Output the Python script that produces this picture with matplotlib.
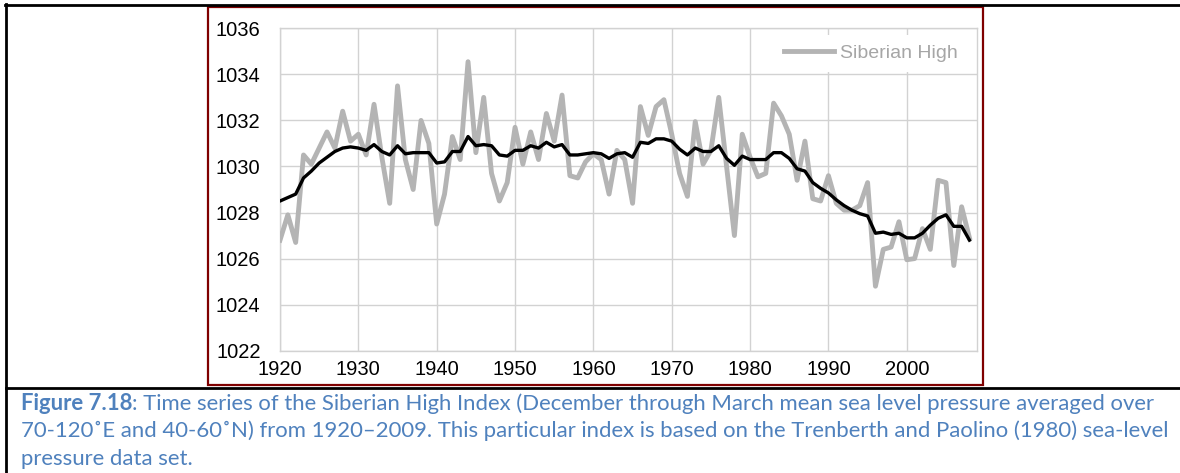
import matplotlib
matplotlib.use('Agg')
import matplotlib.pyplot as plt
from matplotlib.patches import Rectangle
from matplotlib.lines import Line2D

# Siberian High index, Dec-Mar mean SLP (hPa)
years = list(range(1920, 2009))
siberian_high = [
    1026.8, 1027.9, 1026.7, 1030.5, 1030.1, 1030.8, 1031.5, 1030.8, 1032.4, 1031.1,
    1031.4, 1030.5, 1032.7, 1030.4, 1028.4, 1033.5, 1030.3, 1029.0, 1032.0, 1031.0,
    1027.5, 1028.8, 1031.3, 1030.3, 1034.55, 1030.6, 1033.0, 1029.7, 1028.5, 1029.3,
    1031.7, 1030.1, 1031.5, 1030.3, 1032.3, 1031.1, 1033.1, 1029.6, 1029.5, 1030.2,
    1030.55, 1030.3, 1028.8, 1030.7, 1030.3, 1028.4, 1032.6, 1031.35, 1032.6, 1032.9,
    1031.4, 1029.7, 1028.7, 1031.95, 1030.1, 1030.7, 1033.0, 1030.0, 1027.0, 1031.4,
    1030.4, 1029.55, 1029.7, 1032.75, 1032.2, 1031.4, 1029.4, 1031.1, 1028.6, 1028.5,
    1029.6, 1028.4, 1028.1, 1028.1, 1028.3, 1029.3, 1024.8, 1026.4, 1026.5, 1027.6,
    1025.95, 1026.0, 1027.3, 1026.4, 1029.4, 1029.3, 1025.7, 1028.25, 1026.9,
]
# smoothed curve (black)
smoothed = [
    1028.5, 1028.65, 1028.8, 1029.5, 1029.8, 1030.15, 1030.4, 1030.65, 1030.8, 1030.85,
    1030.8, 1030.7, 1030.95, 1030.65, 1030.5, 1030.9, 1030.55, 1030.6, 1030.6, 1030.6,
    1030.15, 1030.2, 1030.65, 1030.65, 1031.3, 1030.9, 1030.95, 1030.9, 1030.5, 1030.45,
    1030.7, 1030.7, 1030.9, 1030.8, 1031.05, 1030.85, 1030.95, 1030.5, 1030.5, 1030.55,
    1030.6, 1030.55, 1030.35, 1030.55, 1030.6, 1030.4, 1031.05, 1031.0, 1031.2, 1031.2,
    1031.1, 1030.75, 1030.5, 1030.8, 1030.65, 1030.65, 1030.9, 1030.35, 1030.05, 1030.45,
    1030.3, 1030.3, 1030.3, 1030.6, 1030.6, 1030.35, 1029.9, 1029.8, 1029.3, 1029.05,
    1028.85, 1028.55, 1028.3, 1028.1, 1027.95, 1027.85, 1027.1, 1027.15, 1027.05, 1027.1,
    1026.9, 1026.9, 1027.1, 1027.45, 1027.75, 1027.9, 1027.4, 1027.4, 1026.8,
]
x_ticks = [1920, 1930, 1940, 1950, 1960, 1970, 1980, 1990, 2000]
y_ticks = [1022, 1024, 1026, 1028, 1030, 1032, 1034, 1036]
legend_label = 'Siberian High'

caption_bold = 'Figure 7.18'
caption_lines = [
    ': Time series of the Siberian High Index (December through March mean sea level pressure averaged over',
    '70-120˚E and 40-60˚N) from 1920–2009. This particular index is based on the Trenberth and Paolino (1980) sea-level',
    'pressure data set.',
]

W, H = 1180, 473
def fx(px):
    return px / W
def fy(py):
    return 1 - py / H

fig = plt.figure(figsize=(W / 100, H / 100), dpi=100, facecolor='white')

# plot area
ax = fig.add_axes([fx(280), fy(350.7), fx(977.3) - fx(280), fy(28.3) - fy(350.7)])
ax.plot(years, siberian_high, color='#b4b4b4', lw=3.5, label=legend_label, zorder=3)
ax.plot(years, smoothed, color='black', lw=2.4, label='_nolegend_', zorder=4)

ax.set_xlim(1920, 2009)
ax.set_ylim(1022, 1036)
ax.set_xticks(x_ticks)
ax.set_yticks(y_ticks)
ax.grid(True, color='#d2d2d2', lw=1.0, zorder=0)
ax.set_axisbelow(True)
for s in ax.spines.values():
    s.set_color('#d2d2d2')
    s.set_linewidth(1.0)
ax.tick_params(axis='both', length=0, labelsize=14.5, colors='black')
ax.tick_params(axis='y', pad=14)
ax.tick_params(axis='x', pad=7)
for lab in ax.get_xticklabels() + ax.get_yticklabels():
    lab.set_family(['Liberation Sans', 'DejaVu Sans'])

leg = ax.legend(loc='center', bbox_to_anchor=(0.847, 0.923), frameon=True,
                facecolor='white', edgecolor='none', fancybox=False, framealpha=1,
                handlelength=2.6, handletextpad=0.3, borderpad=0.5,
                labelcolor='#a6a6a6', prop={'family': 'Liberation Sans', 'size': 14})
leg.set_zorder(5)

# chart border (dark red) and the table rules
fig.add_artist(Rectangle((fx(208.3), fy(385)), fx(983.3) - fx(208.3), fy(6.7) - fy(385),
                         transform=fig.transFigure, fill=False, ec='#7f0000', lw=1.6))
fig.add_artist(Line2D([fx(5), 1], [fy(5), fy(5)], transform=fig.transFigure, color='black', lw=2))
fig.add_artist(Line2D([fx(6), fx(6)], [fy(4), 0], transform=fig.transFigure, color='black', lw=2))
fig.add_artist(Line2D([fx(6), 1], [fy(388), fy(388)], transform=fig.transFigure, color='black', lw=2))

# caption, sized so the first line spans the same width as the original
cap_font = ['Lato', 'DejaVu Sans']
cap_color = '#4f81bd'
renderer = fig.canvas.get_renderer()
p1 = fig.text(0, 0, caption_bold, fontsize=10, weight='bold', family=cap_font)
p2 = fig.text(0, 0, caption_lines[0], fontsize=10, family=cap_font)
w10 = p1.get_window_extent(renderer).width + p2.get_window_extent(renderer).width
p1.remove()
p2.remove()
cap_size = 10 * (1158 - 21) / w10

x0 = 21
baselines = [410, 437, 464.5]
tb = fig.text(fx(x0), fy(baselines[0]), caption_bold, fontsize=cap_size, weight='bold',
              family=cap_font, color=cap_color, va='baseline')
bw = tb.get_window_extent(renderer).width
fig.text(fx(x0 + bw), fy(baselines[0]), caption_lines[0], fontsize=cap_size,
         family=cap_font, color=cap_color, va='baseline')
for line, b in zip(caption_lines[1:], baselines[1:]):
    fig.text(fx(x0), fy(b), line, fontsize=cap_size, family=cap_font, color=cap_color, va='baseline')

fig.savefig('out.png', dpi=100, facecolor='white')
